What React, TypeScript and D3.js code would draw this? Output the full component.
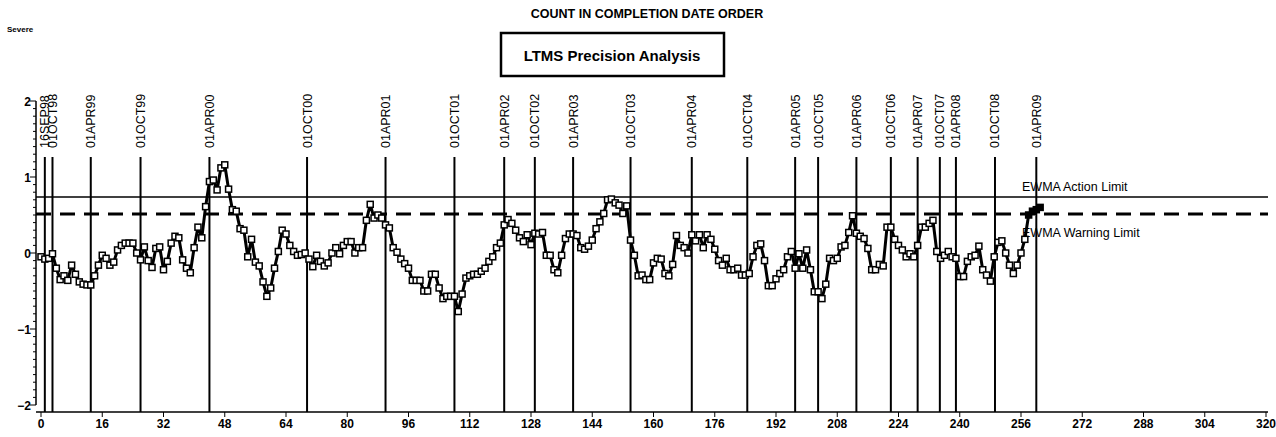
import React from "react";
import * as d3 from "d3";

const values: number[] = [
  -0.05, -0.08, -0.07, -0.01, -0.2, -0.35, -0.3, -0.36, -0.16, -0.28,
  -0.38, -0.41, -0.42, -0.42, -0.3, -0.16, -0.03, -0.07, -0.16, -0.12,
  0.04, 0.1, 0.13, 0.13, 0.13, 0.0, -0.09, 0.08, -0.1, -0.19,
  0.06, 0.08, -0.22, -0.11, 0.13, 0.22, 0.2, -0.09, -0.2, -0.26,
  0.07, 0.34, 0.2, 0.61, 0.94, 0.96, 0.83, 1.12, 1.16, 0.84,
  0.57, 0.55, 0.32, 0.3, -0.05, 0.18, -0.12, -0.17, -0.38, -0.57,
  -0.46, -0.2, 0.02, 0.3, 0.25, 0.1, 0.02, -0.03, -0.02, 0.0,
  -0.08, -0.18, -0.03, -0.11, -0.17, -0.13, 0.0, 0.07, -0.01, 0.1,
  0.15, 0.15, 0.0, 0.07, 0.07, 0.43, 0.64, 0.46, 0.5, 0.46,
  0.37, 0.33, 0.07, 0.01, -0.08, -0.14, -0.2, -0.36, -0.36, -0.36,
  -0.5, -0.5, -0.28, -0.28, -0.46, -0.6, -0.57, -0.57, -0.57, -0.77,
  -0.54, -0.33, -0.3, -0.28, -0.28, -0.24, -0.2, -0.11, -0.05, 0.07,
  0.13, 0.37, 0.44, 0.39, 0.3, 0.2, 0.15, 0.24, 0.11, 0.26,
  0.25, 0.27, -0.03, -0.03, -0.22, -0.26, -0.03, 0.19, 0.25, 0.25,
  0.23, 0.07, 0.05, 0.09, 0.17, 0.32, 0.41, 0.52, 0.7, 0.71,
  0.66, 0.63, 0.52, 0.62, 0.17, -0.03, -0.3, -0.29, -0.35, -0.35,
  -0.13, -0.07, -0.08, -0.27, -0.3, -0.15, 0.23, 0.1, 0.07, 0.0,
  0.24, 0.16, 0.24, 0.07, 0.24, 0.18, 0.05, -0.1, -0.16, -0.07,
  -0.22, -0.22, -0.2, -0.29, -0.29, -0.27, -0.05, 0.1, 0.12, -0.1,
  -0.43, -0.43, -0.34, -0.27, -0.22, -0.05, 0.02, -0.2, -0.01, -0.2,
  0.04, -0.22, -0.51, -0.51, -0.6, -0.41, -0.07, -0.1, -0.07, 0.08,
  0.1, 0.27, 0.49, 0.26, 0.22, 0.19, 0.06, -0.22, -0.22, -0.15,
  -0.17, 0.34, 0.34, 0.18, 0.1, 0.04, -0.05, -0.01, -0.05, 0.1,
  0.34, 0.34, 0.39, 0.43, 0.02, -0.07, -0.03, 0.02, -0.05, -0.07,
  -0.31, -0.31, -0.11, -0.05, -0.03, 0.09, -0.22, -0.29, -0.37, -0.05,
  0.14, 0.16, 0.0, -0.16, -0.27, -0.16, 0.0, 0.18, 0.5, 0.55,
  0.57, 0.6,
];

const dateLabels: string[] = [
  "16SEP98", "01OCT98", "01APR99", "01OCT99", "01APR00", "01OCT00", "01APR01",
  "01OCT01", "01APR02", "01OCT02", "01APR03", "01OCT03", "01APR04", "01OCT04",
  "01APR05", "01OCT05", "01APR06", "01OCT06", "01APR07", "01OCT07", "01APR08",
  "01OCT08", "01APR09",
];
const datePositions: number[] = [
  1, 3, 13, 26, 44, 69.5, 90, 108, 121, 129, 139, 154, 170, 184.5,
  197, 203, 213, 222, 229, 234.8, 239, 249.2, 260,
];

const xTicks: number[] = d3.range(0, 321, 16);
const yTicks: number[] = [-2, -1, 0, 1, 2];
const actionLimit = 0.737;
const warningLimit = 0.513;

const FONT = "'Liberation Sans', Arial, sans-serif";

export default function App() {
  const x = d3.scaleLinear().domain([0, 320]).range([41, 1266]);
  const y = d3.scaleLinear().domain([-2, 2]).range([405, 101]);
  const line = d3
    .line<number>()
    .x((_, i) => x(i))
    .y((d) => y(d));
  const minorY = d3.range(-20, 21).map((v) => v / 10);
  const axisLeft = 36;
  const axisRight = 1268;
  const axisBottom = 412;
  const n = values.length;

  return (
    <svg
      width={1276}
      height={437}
      style={{ position: "absolute", left: 0, top: 0, background: "#fff" }}
      fontFamily={FONT}
    >
      <rect x={0} y={0} width={1276} height={437} fill="#fff" />
      <text x={647} y={18} textAnchor="middle" fontSize={12.5} fontWeight="bold">
        COUNT IN COMPLETION DATE ORDER
      </text>
      <text x={7} y={32} fontSize={8} fontWeight="bold">
        Severe
      </text>
      <rect x={501} y={33} width={223} height={43} fill="none" stroke="#000" strokeWidth={2.5} />
      <text x={612} y={61} textAnchor="middle" fontSize={15} fontWeight="bold">
        LTMS Precision Analysis
      </text>

      {/* y axis */}
      <line x1={axisLeft} x2={axisLeft} y1={y(2)} y2={y(-2)} stroke="#000" strokeWidth={1.5} />
      {minorY.map((v, i) => (
        <line
          key={"my" + i}
          x1={axisLeft - (Math.abs(v - Math.round(v)) < 1e-6 ? 6 : 3)}
          x2={axisLeft}
          y1={y(v)}
          y2={y(v)}
          stroke="#000"
          strokeWidth={1}
        />
      ))}
      {yTicks.map((t) => (
        <text
          key={"yt" + t}
          x={axisLeft - 5}
          y={y(t) + 4.5}
          textAnchor="end"
          fontSize={12}
          fontWeight="bold"
        >
          {t < 0 ? "\u2212" + Math.abs(t) : String(t)}
        </text>
      ))}

      {/* x axis */}
      <line x1={axisLeft} x2={axisRight} y1={axisBottom} y2={axisBottom} stroke="#000" strokeWidth={1.5} />
      {xTicks.map((t) => (
        <g key={"xt" + t}>
          <line x1={x(t)} x2={x(t)} y1={axisBottom} y2={axisBottom + 5} stroke="#000" strokeWidth={1} />
          <text x={x(t)} y={axisBottom + 16} textAnchor="middle" fontSize={12} fontWeight="bold">
            {t}
          </text>
        </g>
      ))}

      {/* date reference lines */}
      {dateLabels.map((lab, i) => {
        const px = x(datePositions[i]);
        return (
          <g key={"d" + i}>
            <line x1={px} x2={px} y1={157} y2={axisBottom} stroke="#000" strokeWidth={2} />
            <text
              transform={`translate(${px + 4.5},148) rotate(-90)`}
              fontSize={12.5}
              textAnchor="start"
            >
              {lab}
            </text>
          </g>
        );
      })}

      {/* limits */}
      <line x1={axisLeft} x2={axisRight} y1={y(actionLimit)} y2={y(actionLimit)} stroke="#000" strokeWidth={1.5} />
      <line
        x1={axisLeft}
        x2={axisRight}
        y1={y(warningLimit)}
        y2={y(warningLimit)}
        stroke="#000"
        strokeWidth={3}
        strokeDasharray="15,9"
      />
      <text x={1022} y={y(actionLimit) - 6} fontSize={12.5}>
        EWMA Action Limit
      </text>
      <text x={1022} y={y(warningLimit) + 23} fontSize={12.5}>
        EWMA Warning Limit
      </text>

      {/* data */}
      <path d={line(values) || ""} fill="none" stroke="#000" strokeWidth={3} strokeLinejoin="round" />
      {values.map((v, i) => (
        <rect
          key={"p" + i}
          x={x(i) - 3}
          y={y(v) - 3}
          width={6}
          height={6}
          fill={i >= n - 4 ? "#000" : "#fff"}
          stroke="#000"
          strokeWidth={1.5}
        />
      ))}
    </svg>
  );
}
